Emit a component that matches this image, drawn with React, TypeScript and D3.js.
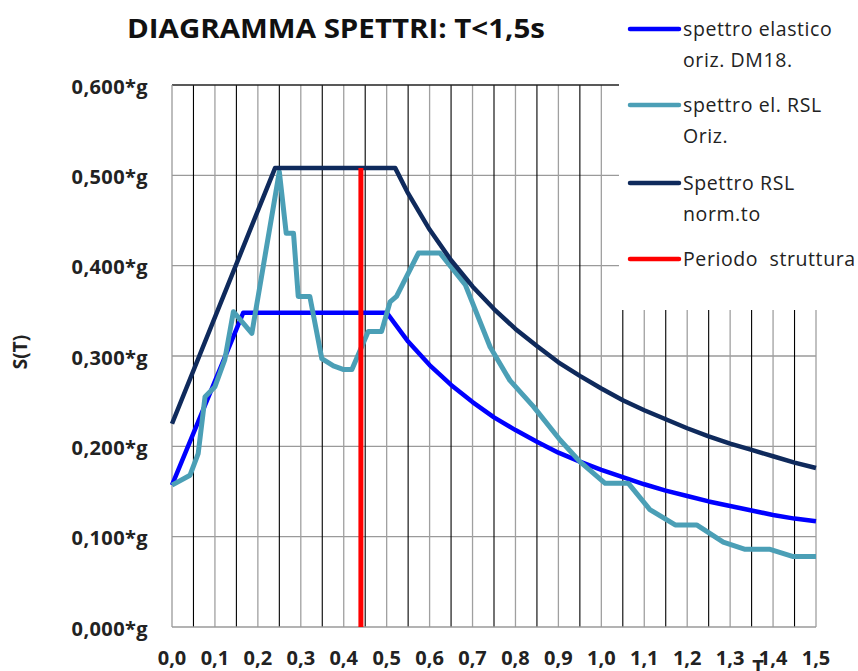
import React from "react";
import * as d3 from "d3";

const W = 858;
const H = 671;

// Period values (s) and spectral accelerations (g)
const elasticT = [0, 0.166, 0.5, 0.55, 0.6, 0.65, 0.7, 0.75, 0.8, 0.85, 0.9, 0.95, 1.0, 1.05, 1.1, 1.15, 1.2, 1.25, 1.3, 1.35, 1.4, 1.45, 1.5];
const elasticS = [0.157, 0.348, 0.348, 0.316, 0.29, 0.268, 0.249, 0.232, 0.218, 0.205, 0.193, 0.183, 0.174, 0.166, 0.158, 0.151, 0.145, 0.139, 0.134, 0.129, 0.124, 0.12, 0.117];

const rslT = [0, 0.042, 0.061, 0.077, 0.1, 0.123, 0.143, 0.186, 0.25, 0.266, 0.283, 0.294, 0.321, 0.349, 0.376, 0.4, 0.419, 0.457, 0.488, 0.508, 0.523, 0.574, 0.624, 0.683, 0.741, 0.787, 0.842, 0.904, 0.95, 1.009, 1.063, 1.113, 1.172, 1.222, 1.284, 1.335, 1.393, 1.447, 1.5];
const rslS = [0.157, 0.168, 0.192, 0.255, 0.266, 0.296, 0.349, 0.325, 0.504, 0.436, 0.436, 0.366, 0.366, 0.297, 0.289, 0.285, 0.285, 0.327, 0.327, 0.36, 0.366, 0.414, 0.414, 0.379, 0.31, 0.273, 0.244, 0.207, 0.183, 0.159, 0.159, 0.13, 0.113, 0.113, 0.094, 0.086, 0.086, 0.078, 0.078];

const normT = [0, 0.24, 0.52, 0.55, 0.6, 0.65, 0.7, 0.75, 0.8, 0.85, 0.9, 0.95, 1.0, 1.05, 1.1, 1.15, 1.2, 1.25, 1.3, 1.35, 1.4, 1.45, 1.5];
const normS = [0.225, 0.508, 0.508, 0.48, 0.44, 0.406, 0.377, 0.352, 0.33, 0.311, 0.293, 0.278, 0.264, 0.251, 0.24, 0.23, 0.22, 0.211, 0.203, 0.196, 0.189, 0.182, 0.176];

const periodT = [0.44, 0.44];
const periodS = [0, 0.508];

const yTicks = [0, 0.1, 0.2, 0.3, 0.4, 0.5, 0.6];
const xTicks = [0, 0.1, 0.2, 0.3, 0.4, 0.5, 0.6, 0.7, 0.8, 0.9, 1.0, 1.1, 1.2, 1.3, 1.4, 1.5];
const xGrid = d3.range(1, 31).map((k) => k * 0.05);

const seriesNames = [
  ["spettro elastico", "oriz. DM18."],
  ["spettro el. RSL", "Oriz."],
  ["Spettro RSL", "norm.to"],
  ["Periodo  struttura"],
];
const seriesColors = ["#0000ff", "#4b9fb6", "#0f2a5c", "#ff0000"];

const FONT = "'Open Sans', 'DejaVu Sans', sans-serif";

export default function App() {
  const x = d3.scaleLinear().domain([0, 1.5]).range([172, 816]);
  const y = d3.scaleLinear().domain([0, 0.6]).range([627, 85]);

  const mk = (ts: number[], ss: number[]) =>
    d3
      .line<number>()
      .x((_, i) => x(ts[i]))
      .y((_, i) => y(ss[i]))(ts) as string;

  const series = [
    { d: mk(elasticT, elasticS), c: seriesColors[0], w: 4.5 },
    { d: mk(rslT, rslS), c: seriesColors[1], w: 5 },
    { d: mk(normT, normS), c: seriesColors[2], w: 4.5 },
    { d: mk(periodT, periodS), c: seriesColors[3], w: 5 },
  ];

  const fmtY = (v: number) => d3.format(".3f")(v).replace(".", ",") + "*g";
  const fmtX = (v: number) => d3.format(".1f")(v).replace(".", ",");

  const legendY = [29, 105, 183, 259];

  return (
    <svg
      width={W}
      height={H}
      style={{ position: "absolute", left: 0, top: 0, background: "#fff" }}
      fontFamily={FONT}
    >
      <rect x={0} y={0} width={W} height={H} fill="#fff" />
      {/* horizontal grid */}
      {yTicks.slice(1, 6).map((v) => (
        <line key={"h" + v} x1={x(0)} x2={x(1.5)} y1={y(v)} y2={y(v)} stroke="#9a9a9a" strokeWidth={1.3} />
      ))}
      {/* vertical grid */}
      {xGrid.map((v, i) => (
        <line
          key={"v" + i}
          x1={x(v)}
          x2={x(v)}
          y1={y(0.6)}
          y2={y(0)}
          stroke={i % 2 === 0 ? "#000" : "#a0a0a0"}
          strokeWidth={i % 2 === 0 ? 1.1 : 1.3}
        />
      ))}
      {/* axes */}
      <line x1={x(0)} x2={x(1.5)} y1={y(0.6)} y2={y(0.6)} stroke="#222" strokeWidth={1.3} />
      <line x1={x(0)} x2={x(0)} y1={y(0.6)} y2={y(0)} stroke="#9a9a9a" strokeWidth={1.3} />
      <line x1={x(0)} x2={x(1.5)} y1={y(0)} y2={y(0)} stroke="#9a9a9a" strokeWidth={1.3} />

      {/* series */}
      {series.map((s, i) => (
        <path key={"s" + i} d={s.d} fill="none" stroke={s.c} strokeWidth={s.w} strokeLinejoin="round" />
      ))}

      {/* legend box */}
      <rect x={619} y={0} width={W - 619} height={310} fill="#fff" />
      {seriesNames.map((lines, i) => (
        <g key={"lg" + i}>
          <line x1={630} x2={679} y1={legendY[i]} y2={legendY[i]} stroke={seriesColors[i]} strokeWidth={4.5} strokeLinecap="round" />
          {lines.map((t, j) => (
            <text key={j} x={683} y={legendY[i] + 6.5 + j * 31} fontSize={19.5} letterSpacing={0.6} fill="#222" style={{ whiteSpace: "pre" }}>
              {t}
            </text>
          ))}
        </g>
      ))}

      {/* title */}
      <text x={127} y={38} fontSize={27} fontWeight="bold" fill="#111" textLength={418} lengthAdjust="spacingAndGlyphs">
        DIAGRAMMA SPETTRI: T&lt;1,5s
      </text>

      {/* y tick labels */}
      {yTicks.map((v) => (
        <text key={"yl" + v} x={148} y={y(v) + 8.5} fontSize={20} fontWeight="bold" letterSpacing={0.4} textAnchor="end" fill="#222">
          {fmtY(v)}
        </text>
      ))}
      {/* x tick labels */}
      {xTicks.map((v) => (
        <text key={"xl" + v} x={x(v)} y={665} fontSize={20} fontWeight="bold" textAnchor="middle" fill="#222">
          {fmtX(v)}
        </text>
      ))}
      {/* axis titles */}
      <text transform="translate(27,352) rotate(-90)" fontSize={19} fontWeight="bold" textAnchor="middle" fill="#222">
        S(T)
      </text>
      <text x={758} y={674} fontSize={20} fontWeight="bold" textAnchor="middle" fill="#222">
        T
      </text>
    </svg>
  );
}
